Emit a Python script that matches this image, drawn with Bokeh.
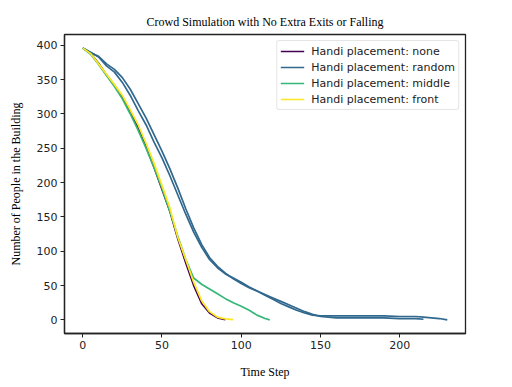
from bokeh.plotting import figure
from bokeh.models import FixedTicker, Range1d, Legend, LegendItem
from bokeh.embed import file_html
from bokeh.resources import INLINE

# --- data ---
none_t = [0, 5, 10, 15, 20, 25, 30, 35, 40, 45, 50, 55, 60, 65, 70, 75, 80, 85, 90]
none_n = [396, 388, 374, 357, 342, 325, 302, 280, 252, 222, 190, 158, 118, 83, 50, 24, 10, 3, 0.5]

random1_t = [0, 5, 10, 15, 20, 25, 30, 35, 40, 45, 50, 55, 60, 65, 70, 75, 80, 85, 90, 95,
             100, 105, 110, 115, 120, 125, 130, 135, 140, 145, 150, 160, 170, 180, 190, 200,
             210, 215, 220, 225, 230]
random1_n = [396, 390, 383, 370, 361, 346, 327, 305, 284, 259, 236, 210, 182, 154, 128, 106,
             88, 76, 67, 61, 55, 48, 42, 36, 30, 24, 19, 14, 10, 7, 6, 6, 6, 6, 6, 5,
             5, 4, 3, 2, 0]

random2_t = [0, 5, 10, 15, 20, 25, 30, 35, 40, 45, 50, 55, 60, 65, 70, 75, 80, 85, 90, 95,
             100, 105, 110, 115, 120, 125, 130, 135, 140, 145, 150, 160, 170, 180, 190, 200,
             210, 215]
random2_n = [396, 389, 384, 373, 365, 353, 336, 315, 294, 270, 246, 220, 192, 162, 134, 110,
             91, 78, 68, 60, 53, 47, 42, 37, 32, 27, 22, 17, 12, 8, 5, 3, 3, 3, 3, 2,
             2, 1]

middle_t = [0, 5, 10, 15, 20, 25, 30, 35, 40, 45, 50, 55, 60, 65, 70, 75, 80, 85, 90, 95,
            100, 105, 110, 115, 118]
middle_n = [396, 387, 372, 356, 340, 322, 300, 276, 250, 222, 192, 158, 122, 88, 61, 52,
            45, 38, 31, 25, 20, 14, 7, 2, 0]

front_t = [0, 5, 10, 15, 20, 25, 30, 35, 40, 45, 50, 55, 60, 65, 70, 75, 80, 85, 90, 95]
front_n = [396, 388, 373, 358, 343, 327, 306, 284, 257, 228, 196, 163, 120, 88, 55, 28,
           12, 4, 1.5, 0.5]

x_ticks = [0, 50, 100, 150, 200]
y_ticks = [0, 50, 100, 150, 200, 250, 300, 350, 400]

colors = {"none": "#440154", "random": "#31688e", "middle": "#35b779", "front": "#fde725"}

xr = Range1d(-11.5, 241.5)
yr = Range1d(-19.8, 415.8)

p = figure(width=512, height=387, output_backend="svg", toolbar_location=None,
           x_range=xr, y_range=yr,
           min_border_left=64, min_border_right=47, min_border_top=34, min_border_bottom=54,
           title="Crowd Simulation with No Extra Exits or Falling")

p.title.text_font = "Liberation Serif"
p.title.text_font_size = "12px"
p.title.text_font_style = "normal"
p.title.align = "center"
p.title.text_color = "#000000"
p.title.standoff = 12

p.xgrid.visible = False
p.ygrid.visible = False
p.outline_line_color = "#222222"
p.outline_line_width = 1.3
p.outline_line_alpha = 1

for ax in (p.xaxis[0], p.yaxis[0]):
    ax.axis_line_color = "#222222"
    ax.axis_line_width = 1.3
    ax.major_tick_line_color = "#222222"
    ax.minor_tick_line_color = None
    ax.major_tick_in = 0
    ax.major_tick_out = 4
    ax.major_label_standoff = 3
    ax.major_label_text_font = "DejaVu Sans"
    ax.major_label_text_font_size = "11px"
    ax.major_label_text_color = "#222222"
    ax.axis_label_text_font = "Liberation Serif"
    ax.axis_label_text_font_size = "12px"
    ax.axis_label_text_font_style = "normal"
    ax.axis_label_text_color = "#000000"

p.xaxis[0].ticker = FixedTicker(ticks=x_ticks)
p.yaxis[0].ticker = FixedTicker(ticks=y_ticks)
p.xaxis[0].axis_label = "Time Step"
p.yaxis[0].axis_label = "Number of People in the Building"
p.xaxis[0].axis_label_standoff = 13
p.yaxis[0].axis_label_standoff = 11

lw = 1.7
r_none = p.line(none_t, none_n, line_color=colors["none"], line_width=lw)
r_rand1 = p.line(random1_t, random1_n, line_color=colors["random"], line_width=lw)
r_rand2 = p.line(random2_t, random2_n, line_color=colors["random"], line_width=lw)
r_mid = p.line(middle_t, middle_n, line_color=colors["middle"], line_width=lw)
r_front = p.line(front_t, front_n, line_color=colors["front"], line_width=lw)

legend = Legend(items=[
    LegendItem(label="Handi placement: none", renderers=[r_none]),
    LegendItem(label="Handi placement: random", renderers=[r_rand1]),
    LegendItem(label="Handi placement: middle", renderers=[r_mid]),
    LegendItem(label="Handi placement: front", renderers=[r_front]),
], location="top_right")
legend.label_text_font = "DejaVu Sans"
legend.label_text_font_size = "11px"
legend.label_text_color = "#222222"
legend.border_line_color = "#cccccc"
legend.border_line_width = 1
legend.border_radius = 3
legend.background_fill_alpha = 0.8
legend.margin = 6
legend.padding = 3
legend.spacing = 2
legend.label_height = 14
legend.glyph_height = 14
legend.glyph_width = 24
legend.label_standoff = 7
p.add_layout(legend)

open("out.html", "w").write(file_html(p, INLINE))
